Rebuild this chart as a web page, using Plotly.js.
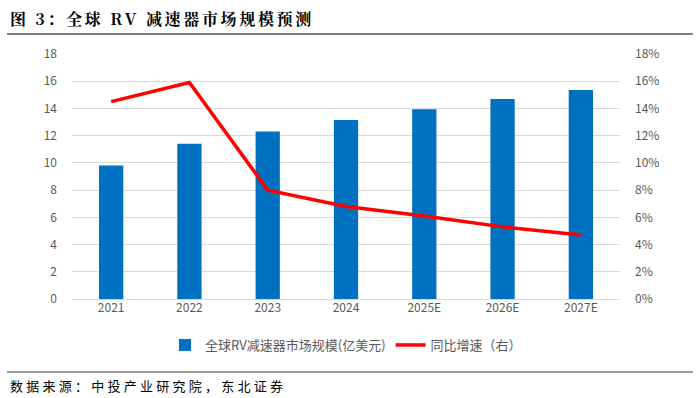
<!DOCTYPE html>
<html>
<head>
<meta charset="utf-8">
<script src="https://cdn.plot.ly/plotly-3.0.1.min.js"></script>
<style>html,body{margin:0;padding:0;background:#fff;}#chart{width:700px;height:398px;}</style>
</head>
<body>
<div id="chart"></div>
<script>
const years = ["2021", "2022", "2023", "2024", "2025E", "2026E", "2027E"];
const marketSize = [9.8, 11.4, 12.3, 13.15, 13.95, 14.7, 15.35];
const growthRate = [0.145, 0.159, 0.080, 0.068, 0.061, 0.053, 0.047];
const leftTicks = [0, 2, 4, 6, 8, 10, 12, 14, 16, 18];
const rightTicks = [0, 0.02, 0.04, 0.06, 0.08, 0.10, 0.12, 0.14, 0.16, 0.18];
const titleText = "图 3：全球 RV 减速器市场规模预测";
const sourceText = "数据来源：中投产业研究院，东北证券";

function spaced(s, sp) { return Array.from(s).join(sp); }

const font = "Noto Sans CJK SC, Noto Sans, sans-serif";
const traces = [
  {type: "bar", x: years, y: marketSize, name: "全球RV减速器市场规模(亿美元)",
   marker: {color: "#0070C0"}, yaxis: "y"},
  {type: "scatter", mode: "lines", x: years, y: growthRate, name: "同比增速（右）",
   line: {color: "#FF0000", width: 3.5}, yaxis: "y2"}
];
const layout = {
  width: 700, height: 398,
  margin: {l: 72, r: 80, t: 54, b: 99},
  paper_bgcolor: "#fff", plot_bgcolor: "#fff",
  font: {family: font, size: 12, color: "#595959"},
  bargap: 0.69,
  showlegend: true,
  legend: {orientation: "h", x: 0.5, xanchor: "center", y: -(345-299)/245, yanchor: "middle",
           font: {size: 13, color: "#595959"}, itemwidth: 30},
  xaxis: {type: "category", showgrid: false, showline: false, ticks: "",
          tickfont: {size: 12, color: "#595959"}},
  yaxis: {range: [0, 18], tickvals: leftTicks, showgrid: true, gridcolor: "#d9d9d9",
          gridwidth: 1, zeroline: true, zerolinecolor: "#d9d9d9", showline: false, ticks: "",
          ticklabelstandoff: 14, tickfont: {size: 12, color: "#595959"}},
  yaxis2: {range: [0, 0.18], tickvals: rightTicks, tickformat: ".0%", overlaying: "y",
           side: "right", showgrid: false, zeroline: false, showline: false, ticks: "",
           ticklabelstandoff: 14, tickfont: {size: 12, color: "#595959"}},
  annotations: [
    {xref: "paper", yref: "paper", x: -64/548, y: 1 + 36/245, xanchor: "left", yanchor: "middle",
     text: "<b>" + spaced(titleText, "\u2006") + "</b>", showarrow: false,
     font: {family: "Noto Serif CJK SC, Noto Sans CJK SC, serif", size: 16, color: "#000"}},
    {xref: "paper", yref: "paper", x: -64/548, y: -(385-299)/245, xanchor: "left", yanchor: "middle",
     text: spaced(sourceText, "\u2005"), showarrow: false,
     font: {family: font, size: 13, color: "#000"}}
  ],
  shapes: [
    {type: "line", xref: "paper", yref: "paper", x0: -65/548, x1: 621/548,
     y0: 1 + 20/245, y1: 1 + 20/245, line: {color: "#7f7f7f", width: 2}},
    {type: "line", xref: "paper", yref: "paper", x0: -65/548, x1: 621/548,
     y0: -(372-299)/245, y1: -(372-299)/245, line: {color: "#7f7f7f", width: 1.5}}
  ]
};
Plotly.newPlot("chart", traces, layout, {displayModeBar: false, staticPlot: true});
</script>
</body>
</html>
